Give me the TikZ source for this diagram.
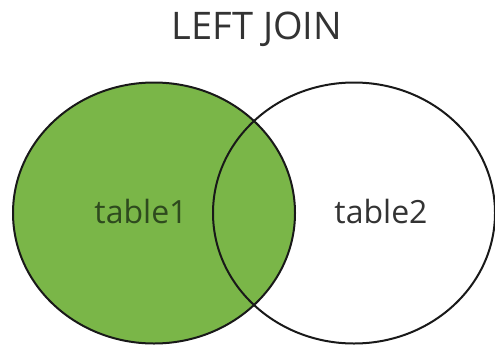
\documentclass[tikz,border=0pt]{standalone}
\usepackage{fontspec}
\setmainfont{Open Sans}
\usepackage{xcolor}
\usepackage{tikz}
\usetikzlibrary{shapes.geometric, positioning}
\definecolor{joingreen}{HTML}{7AB648}
\definecolor{darkleaf}{HTML}{2E4A1E}
\definecolor{inkgray}{HTML}{333333}

\begin{document}
\begin{tikzpicture}[
        x=1pt, y=-1pt,
        settab/.style={ellipse, draw=black!90, line width=2pt, inner sep=0pt,
                       minimum width=282pt, minimum height=261pt, fill=#1},
        tablabel/.style={font=\fontsize{32}{36}\selectfont, text=#1},
    ]
        \useasboundingbox (0,0) rectangle (495,346);

        %--- Conjuntos ---
        \node[settab=joingreen] (tabA) at (154,213) {};
        \node[settab=none]      (tabB) at (354,213) {};

        %--- Etiquetas ---
        \node[tablabel=darkleaf] (lblA) at (141,211) {table1};
        \node[tablabel=inkgray]  (lblB) at (381,211) {table2};

        %--- Titulo ---
        \node[font=\fontsize{38}{42}\selectfont, text=black!80] (title) at (257,29) {LEFT JOIN};
    \end{tikzpicture}
\end{document}
